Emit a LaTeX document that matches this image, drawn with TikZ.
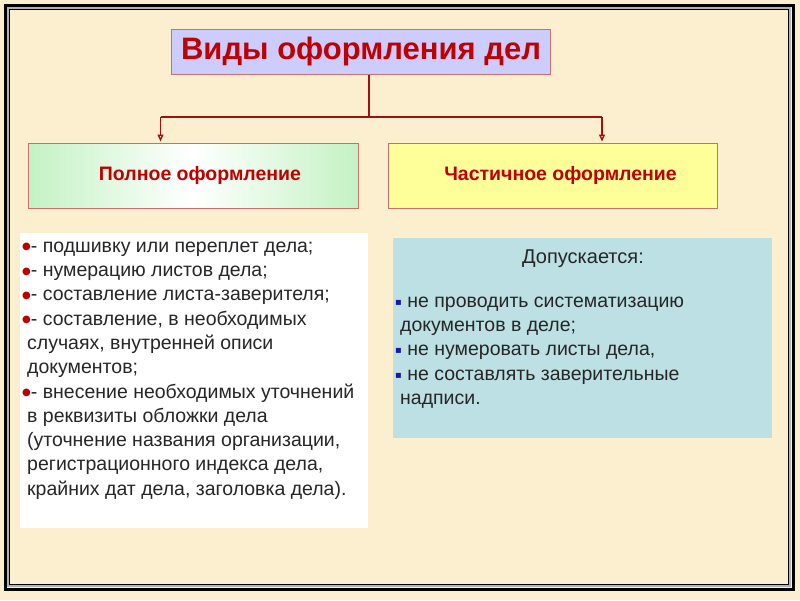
\documentclass[tikz,border=0pt]{standalone}
\usepackage{fontspec}
\setmainfont{Liberation Sans}
\newfontfamily\sym{DejaVu Sans}
\usetikzlibrary{arrows.meta}
\definecolor{bg}{HTML}{FCEFCF}
\definecolor{dred}{HTML}{C00000}
\definecolor{lnred}{HTML}{A01010}
\definecolor{bord}{HTML}{C87070}
\definecolor{lav}{HTML}{CCCCFF}
\definecolor{lgreen}{HTML}{C4F2C4}
\definecolor{yel}{HTML}{FFFF99}
\definecolor{lblue}{HTML}{BCE0E4}
\definecolor{txt}{HTML}{262626}
\definecolor{bblue}{HTML}{1818A8}
\definecolor{bred}{HTML}{C00000}
\newcommand{\rb}{\raisebox{2.5pt}{\textcolor{bred}{\sym\fontsize{10}{10}\selectfont ●}}}
\newcommand{\bb}{\raisebox{2pt}{\textcolor{bblue}{\sym\fontsize{10}{10}\selectfont ▪}}}
\begin{document}
\begin{tikzpicture}[x=1pt,y=-1pt,
  box/.style={draw=bord, line width=1pt, inner sep=0pt},
  conn/.style={draw=lnred, line width=1.4pt},
  arr/.style={conn, -{Triangle[open, length=7pt, width=6pt]}, shorten >=1pt},
  listtext/.style={text=txt, font=\fontsize{19.5}{24.3}\selectfont, align=left, inner sep=0pt, anchor=north west}
]
\useasboundingbox (0,0) rectangle (800,600);
\fill[bg] (0,0) rectangle (800,600);
\draw[black, line width=3pt] (5,5) rectangle (793,589);
\draw[gray!60, line width=1.2pt] (8,8) rectangle (790,586);
\draw[black, line width=0.6pt] (9.5,9.5) rectangle (788.5,584.5);

\node[box, fill=lav, minimum width=379pt, minimum height=45pt, text=dred,
      font=\bfseries\fontsize{31}{31}\selectfont] (title) at (361,51.5) {Виды оформления дел};

\node[box, left color=lgreen, right color=lgreen, middle color=white,
      minimum width=330pt, minimum height=65pt, text=dred,
      font=\bfseries\fontsize{19.5}{19.5}\selectfont] (full) at (193,175.5) {\hspace*{14pt}Полное оформление};
\node[box, fill=yel, minimum width=329pt, minimum height=65pt, text=dred,
      font=\bfseries\fontsize{19.5}{19.5}\selectfont] (part) at (552.5,175.5) {\hspace*{16pt}Частичное оформление};

\coordinate (j) at (369,117);
\coordinate (al) at (160.5,117);
\coordinate (ar) at (602,117);
\draw[conn] (title.south -| j) -- (j);
\draw[conn] (al) -- (ar);
\draw[arr] (al) -- (al |- full.north);
\draw[arr] (ar) -- (ar |- part.north);

\node[fill=white, minimum width=348pt, minimum height=295pt, anchor=north west, inner sep=0pt] (lbox) at (20,233) {};
\node[fill=lblue, minimum width=379pt, minimum height=200pt, anchor=north west, inner sep=0pt] (rbox) at (393,238) {};

\node[listtext] (ltext) at (22,235) {%
\strut\rb- подшивку или переплет дела;\\
\rb- нумерацию листов дела;\\
\rb- составление листа-заверителя;\\
\rb- составление, в необходимых\\
\hspace*{5pt}случаях, внутренней описи\\
\hspace*{5pt}документов;\\
\rb- внесение необходимых уточнений\\
\hspace*{5pt}в реквизиты обложки дела\\
\hspace*{5pt}(уточнение названия организации,\\
\hspace*{5pt}регистрационного индекса дела,\\
\hspace*{5pt}крайних дат дела, заголовка дела).};

\node[text=txt, font=\fontsize{20}{20}\selectfont, inner sep=0pt, anchor=base] (allow) at (583,263) {Допускается:};

\node[listtext] (rtext) at (395,290) {%
\strut\bb\ не проводить систематизацию\\
\hspace*{5pt}документов в деле;\\
\bb\ не нумеровать листы дела,\\
\bb\ не составлять заверительные\\
\hspace*{5pt}надписи.};
\end{tikzpicture}
\end{document}
